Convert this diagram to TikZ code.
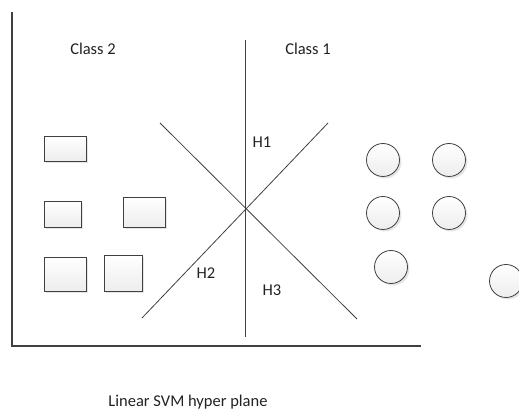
\documentclass[tikz,border=0pt]{standalone}
\usepackage{fontspec}
\setmainfont{Carlito}
\usetikzlibrary{shadows}
\definecolor{ln}{HTML}{404040}
\definecolor{tx}{HTML}{222222}
\begin{document}
\begin{tikzpicture}[x=1pt,y=-1pt,
  lbl/.style={font=\fontsize{16.5}{18}\selectfont, text=tx, inner sep=0pt},
  sq/.style={draw=ln, line width=0.8pt, top color=white, bottom color=gray!14, inner sep=0pt,
     drop shadow={shadow xshift=2pt, shadow yshift=-2pt, fill=gray!40, opacity=0.5}},
  rnd/.style={circle, draw=ln, line width=0.8pt, minimum size=33pt, inner sep=0pt, top color=white, bottom color=gray!14,
     drop shadow={shadow xshift=2pt, shadow yshift=-2pt, fill=gray!40, opacity=0.5}},
  axis/.style={draw=ln, line width=1.1pt},
  hp/.style={draw=ln, line width=0.8pt}]
\useasboundingbox (0,0) rectangle (519,419);
% axes
\coordinate (ytop) at (12,12);
\coordinate (orig) at (12,346);
\coordinate (xend) at (421,346);
\draw[axis] (ytop) -- (orig) -- (xend);
% hyperplanes
\coordinate (vtop) at (245,40);
\coordinate (vbot) at (245,337);
\coordinate (d1a) at (160,123);
\coordinate (d1b) at (357,319);
\coordinate (d2a) at (142,318);
\coordinate (d2b) at (328,123);
\draw[hp] (vtop) -- (vbot);
\draw[hp] (d1a) -- (d1b);
\draw[hp] (d2a) -- (d2b);
% labels
\node[lbl] (c2) at (93,49) {Class 2};
\node[lbl] (c1) at (308,49) {Class 1};
\node[lbl] (h1) at (262,142) {H1};
\node[lbl] (h2) at (206,273) {H2};
\node[lbl] (h3) at (272,290) {H3};
\node[lbl] (cap) at (188,402) {Linear SVM hyper plane};
% class 2 squares
\node[sq, minimum width=42pt, minimum height=25pt] (r1) at (65,148.5) {};
\node[sq, minimum width=37pt, minimum height=26pt] (r2) at (62.5,214) {};
\node[sq, minimum width=42pt, minimum height=30pt] (r3) at (144,212) {};
\node[sq, minimum width=42pt, minimum height=34pt] (r4) at (65,274) {};
\node[sq, minimum width=38pt, minimum height=36pt] (r5) at (123,273) {};
% class 1 circles
\node[rnd] (o1) at (383,160) {};
\node[rnd] (o2) at (449,160) {};
\node[rnd] (o3) at (383,213) {};
\node[rnd] (o4) at (449,213) {};
\node[rnd] (o5) at (391,267) {};
\node[rnd] (o6) at (506,281) {};
\end{tikzpicture}
\end{document}
